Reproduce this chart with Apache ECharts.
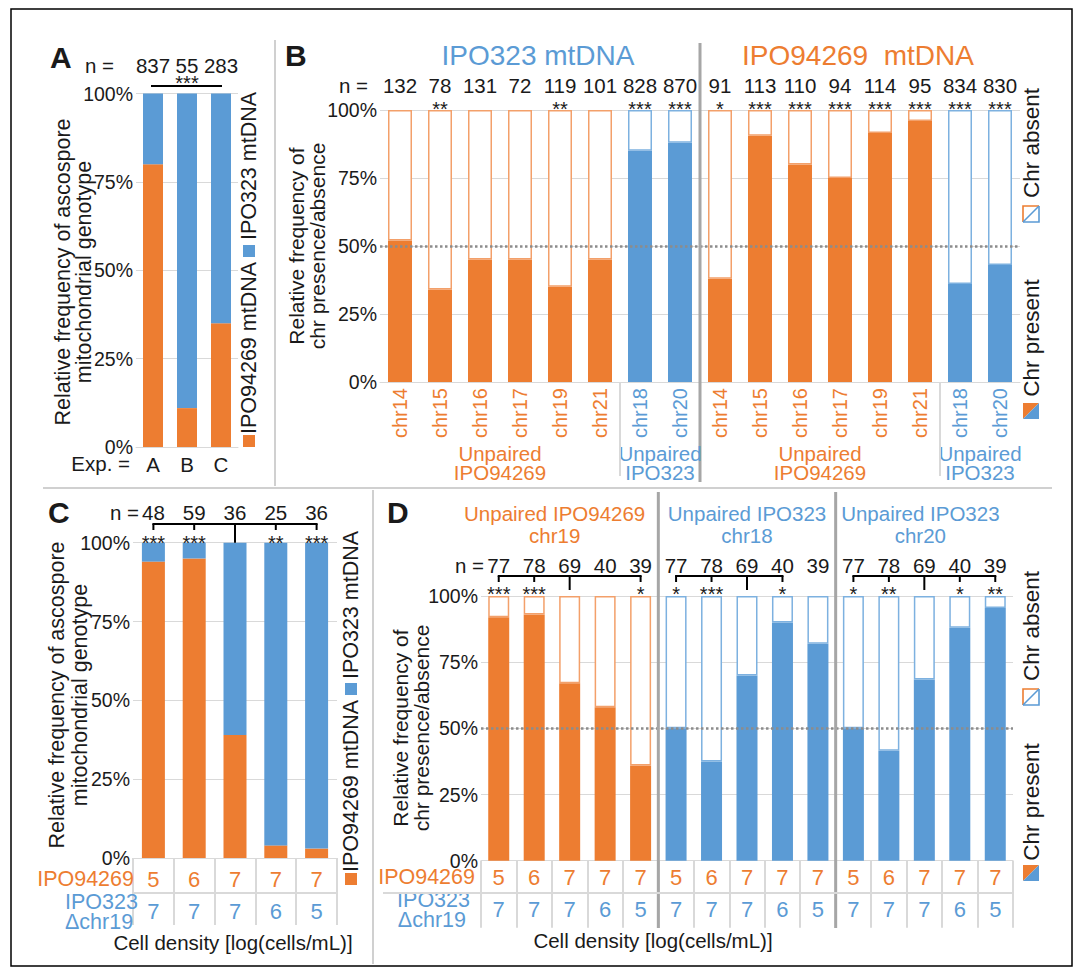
<!DOCTYPE html>
<html><head><meta charset="utf-8">
<script src="https://cdn.jsdelivr.net/npm/echarts@6/dist/echarts.min.js"></script>
<style>html,body{margin:0;padding:0;background:#fff}#c{width:1078px;height:979px}</style>
</head><body><div id="c"></div>
<script>
// ---------- Panel A ----------
const aExp = ['A', 'B', 'C'];
const aN = [837, 55, 283];
const aSig = '***';
const aIPO94269 = [80, 11, 35];
const aIPO323 = [20, 89, 65];

// ---------- Panel B ----------
const bMt = ['IPO323 mtDNA','IPO323 mtDNA','IPO323 mtDNA','IPO323 mtDNA','IPO323 mtDNA','IPO323 mtDNA','IPO323 mtDNA','IPO323 mtDNA',
             'IPO94269  mtDNA','IPO94269  mtDNA','IPO94269  mtDNA','IPO94269  mtDNA','IPO94269  mtDNA','IPO94269  mtDNA','IPO94269  mtDNA','IPO94269  mtDNA'];
const bChr = ['chr14','chr15','chr16','chr17','chr19','chr21','chr18','chr20',
              'chr14','chr15','chr16','chr17','chr19','chr21','chr18','chr20'];
const bStrain = ['IPO94269','IPO94269','IPO94269','IPO94269','IPO94269','IPO94269','IPO323','IPO323',
                 'IPO94269','IPO94269','IPO94269','IPO94269','IPO94269','IPO94269','IPO323','IPO323'];
const bN = [132, 78, 131, 72, 119, 101, 828, 870, 91, 113, 110, 94, 114, 95, 834, 830];
const bSig = ['', '**', '', '', '**', '', '***', '***', '*', '***', '***', '***', '***', '***', '***', '***'];
const bPresent = [52, 34, 45, 45, 35, 45, 85, 88, 38, 90.5, 80, 75, 91.5, 96, 36, 43];

// ---------- Panel C ----------
const cDens94269 = [5, 6, 7, 7, 7];
const cDens323 = [7, 7, 7, 6, 5];
const cN = [48, 59, 36, 25, 36];
const cSig = ['***', '***', '', '**', '***'];
const cRef = 2;
const cIPO94269 = [94, 95, 39, 4, 3];
const cIPO323 = [6, 5, 61, 96, 97];

// ---------- Panel D ----------
const dChr = ['chr19','chr19','chr19','chr19','chr19','chr18','chr18','chr18','chr18','chr18','chr20','chr20','chr20','chr20','chr20'];
const dStrain = ['IPO94269','IPO94269','IPO94269','IPO94269','IPO94269','IPO323','IPO323','IPO323','IPO323','IPO323','IPO323','IPO323','IPO323','IPO323','IPO323'];
const dDens94269 = [5, 6, 7, 7, 7, 5, 6, 7, 7, 7, 5, 6, 7, 7, 7];
const dDens323 = [7, 7, 7, 6, 5, 7, 7, 7, 6, 5, 7, 7, 7, 6, 5];
const dN = [77, 78, 69, 40, 39, 77, 78, 69, 40, 39, 77, 78, 69, 40, 39];
const dSig = ['***', '***', '', '', '*', '*', '***', '', '*', '', '*', '**', '', '*', '**'];
const dRef = [2, 7, 12];
const dPresent = [92, 93, 67, 58, 36, 50, 37.5, 70, 90, 82, 50, 41.5, 68.5, 88, 95.5];

// ---------- styles ----------
const FONT = "'Liberation Sans', Arial, Helvetica, sans-serif";
const ORANGE = '#ED7D31', BLUE = '#5B9BD5', ORANGE_L = '#F3A06A', BLUE_L = '#7DB1E0';
const GRIDC = '#D9D9D9', TXT = '#1a1a1a', DIV = '#A6A6A6', SEP = '#D0D0D0';
const col = s => s === 'IPO94269' ? ORANGE : BLUE;
const colL = s => s === 'IPO94269' ? ORANGE_L : BLUE_L;
const dTitleDx = [-15, 0, -4];

const chart = echarts.init(document.getElementById('c'), null, {renderer: 'svg', width: 1078, height: 979});

const grids = [
  {left: 136, top: 93.5, width: 102, height: 353.5},
  {left: 380, top: 110, width: 640, height: 272},
  {left: 133, top: 542.7, width: 204, height: 315.3},
  {left: 481, top: 596, width: 532, height: 264.7}
];
function yAx(i) {
  return {type: 'value', gridIndex: i, min: 0, max: 100, interval: 25,
    axisLabel: {formatter: '{value}%', fontSize: 19.5, color: TXT, fontFamily: FONT, margin: 3},
    splitLine: {lineStyle: {color: GRIDC, width: 1}}, axisLine: {show: false}, axisTick: {show: false}};
}
const midLine = {silent: true, symbol: 'none', data: [{yAxis: 50}], label: {show: false},
  lineStyle: {type: 'dotted', color: '#8C8C8C', width: 2.5}};

const option = {
  backgroundColor: '#fff',
  animation: false,
  grid: grids,
  xAxis: [
    {type: 'category', gridIndex: 0, data: aExp,
      axisLabel: {fontSize: 20.5, color: TXT, margin: 7, fontFamily: FONT},
      axisTick: {show: false}, axisLine: {lineStyle: {color: GRIDC}}},
    {type: 'category', gridIndex: 1, data: bChr,
      axisLabel: {rotate: 90, margin: 6, interval: 0,
        formatter: (v, i) => `{${bStrain[i] === 'IPO94269' ? 'o' : 'b'}|${v}}`,
        rich: {o: {color: ORANGE, fontSize: 20, fontFamily: FONT}, b: {color: BLUE, fontSize: 20, fontFamily: FONT}}},
      axisTick: {show: false}, axisLine: {lineStyle: {color: GRIDC}}},
    {type: 'category', gridIndex: 2, data: cDens94269.map((d, i) => d + '/' + cDens323[i]),
      axisLabel: {show: false},
      axisTick: {show: true, length: 67, interval: 0, lineStyle: {color: GRIDC, width: 2}},
      axisLine: {lineStyle: {color: GRIDC}}},
    {type: 'category', gridIndex: 3, data: dChr.map((c, i) => c + '_' + i),
      axisLabel: {show: false},
      axisTick: {show: true, length: 67, interval: 0, lineStyle: {color: GRIDC, width: 2}},
      axisLine: {lineStyle: {color: GRIDC}}}
  ],
  yAxis: [yAx(0), yAx(1), yAx(2), yAx(3)],
  series: [
    {type: 'bar', name: 'IPO94269 mtDNA', xAxisIndex: 0, yAxisIndex: 0, stack: 'a', barWidth: 20,
      data: aIPO94269, itemStyle: {color: ORANGE}},
    {type: 'bar', name: 'IPO323 mtDNA', xAxisIndex: 0, yAxisIndex: 0, stack: 'a', barWidth: 20,
      data: aIPO323, itemStyle: {color: BLUE}},
    {type: 'bar', name: 'Chr present', xAxisIndex: 1, yAxisIndex: 1, stack: 'b', barWidth: 24,
      data: bPresent.map((v, i) => ({value: v, itemStyle: {color: col(bStrain[i])}}))},
    {type: 'bar', name: 'Chr absent', xAxisIndex: 1, yAxisIndex: 1, stack: 'b', barWidth: 24,
      data: bPresent.map((v, i) => ({value: 100 - v, itemStyle: {color: '#fff', borderColor: colL(bStrain[i]), borderWidth: 1.5}})),
      markLine: midLine},
    {type: 'bar', name: 'IPO94269 mtDNA', xAxisIndex: 2, yAxisIndex: 2, stack: 'c', barWidth: 23,
      data: cIPO94269, itemStyle: {color: ORANGE}},
    {type: 'bar', name: 'IPO323 mtDNA', xAxisIndex: 2, yAxisIndex: 2, stack: 'c', barWidth: 23,
      data: cIPO323, itemStyle: {color: BLUE}},
    {type: 'bar', name: 'Chr present', xAxisIndex: 3, yAxisIndex: 3, stack: 'd', barWidth: 21,
      data: dPresent.map((v, i) => ({value: v, itemStyle: {color: col(dStrain[i])}}))},
    {type: 'bar', name: 'Chr absent', xAxisIndex: 3, yAxisIndex: 3, stack: 'd', barWidth: 21,
      data: dPresent.map((v, i) => ({value: 100 - v, itemStyle: {color: '#fff', borderColor: colL(dStrain[i]), borderWidth: 1.5}})),
      markLine: midLine}
  ]
};
chart.setOption(option);

// ---------- annotations placed through the axes ----------
const G = [];
const ROT = Math.PI / 2;
function T(x, y, text, o = {}) {
  G.push({type: 'text', x, y, rotation: o.rot || 0, z: 100, silent: true,
    style: {text, fill: o.color || TXT, font: `${o.bold ? 'bold ' : ''}${o.size || 20}px ${FONT}`,
      textAlign: o.align || 'center', textVerticalAlign: o.va || 'middle', lineHeight: o.lh || undefined}});
}
function L(x1, y1, x2, y2, color, w) {
  G.push({type: 'line', z: 100, silent: true, shape: {x1, y1, x2, y2}, style: {stroke: color, lineWidth: w}});
}
function R(x, y, w, h, fill, stroke, lw) {
  G.push({type: 'rect', z: 100, silent: true, shape: {x, y, width: w, height: h},
    style: {fill: fill, stroke: stroke || null, lineWidth: lw || 0}});
}
function PG(points, fill) { G.push({type: 'polygon', z: 100, silent: true, shape: {points}, style: {fill}}); }
function PL(points, stroke, w) { G.push({type: 'polyline', z: 101, silent: true, shape: {points}, style: {stroke, lineWidth: w, fill: null}}); }
const P = (g, i, v) => chart.convertToPixel({gridIndex: g}, [i, v]);
const X = (g, i) => P(g, i, 100)[0];
const STAR = 20, STAR_DY = 4.5;
function star(x, y, s) { T(x, y + STAR_DY, s, {size: STAR}); }

function absentIcon(x, y, s) {
  R(x, y, s, s, '#fff');
  PL([[x, y + s], [x, y], [x + s, y]], ORANGE, 1.6);
  PL([[x + s, y], [x + s, y + s], [x, y + s]], BLUE, 1.6);
  PL([[x, y + s], [x + s, y]], BLUE, 1.6);
}
function presentIcon(x, y, s) {
  PG([[x, y], [x + s, y], [x, y + s]], ORANGE);
  PG([[x + s, y], [x + s, y + s], [x, y + s]], BLUE);
}
function bracket(g, sig, ref, yLine, yTick, yRef) {
  const idx = sig.map((s, i) => s ? i : -1).filter(i => i >= 0);
  const all = idx.concat([ref]);
  const lo = Math.min(...all), hi = Math.max(...all);
  L(X(g, lo) - 1, yLine, X(g, hi) + 1, yLine, '#000', 2);
  idx.forEach(i => L(X(g, i), yLine, X(g, i), yTick, '#000', 2));
  L(X(g, ref), yLine, X(g, ref), yRef, '#000', 2);
}

// frame and panel separators
R(11, 9, 1061, 957, 'none', '#000', 1.5);
L(275, 40, 275, 486, SEP, 2);
L(43, 488, 1052, 488, SEP, 2);
L(373, 490, 373, 964, SEP, 2);

// ----- Panel A -----
T(50, 57, 'A', {bold: true, size: 30, align: 'left'});
T(114, 65, 'n =', {align: 'right', size: 20.5});
aN.forEach((n, i) => T(X(0, i), 65, String(n), {size: 20.5}));
L(X(0, 0) - 2, 86, X(0, 2) + 1, 86, '#000', 2);
star(X(0, 1), 78, aSig);
T(130, 463, 'Exp. =', {align: 'right', size: 20.5});
T(73, 272, 'Relative frequency of ascospore\nmitochondrial genotype', {rot: ROT, size: 21.5, lh: 21});
R(243, 435, 12, 12, ORANGE);
T(249, 348, 'IPO94269 mtDNA', {rot: ROT, size: 21.5});
R(243, 245, 12, 12, BLUE);
T(249, 166, 'IPO323 mtDNA', {rot: ROT, size: 21.5});

// ----- Panel B -----
T(285, 55, 'B', {bold: true, size: 30, align: 'left'});
(function () {
  function runs(arr) {
    const r = []; let s = 0;
    for (let i = 1; i <= arr.length; i++) if (i === arr.length || arr[i] !== arr[s]) { r.push([s, i - 1]); s = i; }
    return r;
  }
  runs(bMt).forEach(([s, e]) => {
    const cx = (X(1, s) + X(1, e)) / 2;
    T(cx - 2, 55, bMt[s], {size: 28, color: bMt[s].startsWith('IPO323') ? BLUE : ORANGE});
    if (s > 0) L((X(1, s - 1) + X(1, s)) / 2, 43, (X(1, s - 1) + X(1, s)) / 2, 482, DIV, 3);
  });
  runs(bMt.map((m, i) => m + '|' + bStrain[i])).forEach(([s, e]) => {
    const cx = (X(1, s) + X(1, e)) / 2;
    T(cx, 463, 'Unpaired\n' + bStrain[s], {color: col(bStrain[s]), lh: 19, size: 20.5});
    if (s > 0 && bMt[s] === bMt[s - 1]) {
      const xs = (X(1, s - 1) + X(1, s)) / 2; L(xs, 382, xs, 476, GRIDC, 2);
    }
  });
})();
T(368, 85, 'n =', {align: 'right', size: 20.5});
bN.forEach((n, i) => T(X(1, i), 85, String(n), {size: 20.5}));
bSig.forEach((s, i) => { if (s) star(X(1, i), 104, s); });
T(307, 246, 'Relative frequency of\nchr presence/absence', {rot: ROT, size: 21, lh: 21});
T(1031, 143, 'Chr absent', {rot: ROT, size: 22.5});
absentIcon(1023, 206, 16);
T(1031, 338, 'Chr present', {rot: ROT, size: 22.5});
presentIcon(1023, 403, 16);

// ----- Panel C -----
T(48, 512, 'C', {bold: true, size: 30, align: 'left'});
T(139, 512, 'n =', {align: 'right', size: 20.5});
cN.forEach((n, i) => T(X(2, i), 512, String(n), {size: 20.5}));
bracket(2, cSig, cRef, 524, 530, P(2, 0, 100)[1]);
cSig.forEach((s, i) => { if (s) star(X(2, i), 538, s); });
T(68, 695, 'Relative frequency of ascospore\nmitochondrial genotype', {rot: ROT, size: 21.5, lh: 23});
R(345, 873, 12, 12, ORANGE);
T(351, 786, 'IPO94269 mtDNA', {rot: ROT, size: 21.5});
R(345, 683, 12, 12, BLUE);
T(351, 605, 'IPO323 mtDNA', {rot: ROT, size: 21.5});
T(134, 879, 'IPO94269', {align: 'right', color: ORANGE, size: 21.5});
T(65, 902, 'IPO323', {align: 'left', color: BLUE, size: 21.5});
T(65, 922, 'Δchr19', {align: 'left', color: BLUE, size: 21.5});
cDens94269.forEach((d, i) => T(X(2, i), 879, String(d), {color: ORANGE, size: 22}));
cDens323.forEach((d, i) => T(X(2, i), 911, String(d), {color: BLUE, size: 22}));
L(133, 893, 337, 893, GRIDC, 2);
T(233, 942, 'Cell density [log(cells/mL)]', {size: 20.5});

// ----- Panel D -----
T(387, 512, 'D', {bold: true, size: 30, align: 'left'});
T(484, 565, 'n =', {align: 'right', size: 20.5});
dN.forEach((n, i) => T(X(3, i), 565, String(n), {size: 20.5}));
dSig.forEach((s, i) => { if (s) star(X(3, i), 589, s); });
(function () {
  let s = 0, g = 0;
  for (let i = 1; i <= dChr.length; i++) {
    if (i === dChr.length || dChr[i] !== dChr[s]) {
      const e = i - 1;
      const cx = (X(3, s) + X(3, e)) / 2 + dTitleDx[g];
      T(cx, 524, 'Unpaired ' + dStrain[s] + '\n' + dChr[s], {color: col(dStrain[s]), size: 20.5, lh: 22});
      const subSig = dSig.map((v, k) => (k >= s && k <= e) ? v : '');
      bracket(3, subSig, dRef[g], 576, 582, 590);
      if (s > 0) { const xs = (X(3, s - 1) + X(3, s)) / 2; L(xs, 492, xs, 928, DIV, 3); }
      s = i; g++;
    }
  }
})();
T(411, 728, 'Relative frequency of\nchr presence/absence', {rot: ROT, size: 21, lh: 21});
T(475, 877, 'IPO94269', {align: 'right', color: ORANGE, size: 21.5});
T(470, 900, 'IPO323', {align: 'right', color: BLUE, size: 21.5});
T(466, 920, 'Δchr19', {align: 'right', color: BLUE, size: 21.5});
dDens94269.forEach((d, i) => T(X(3, i), 877, String(d), {color: ORANGE, size: 22}));
dDens323.forEach((d, i) => T(X(3, i), 909, String(d), {color: BLUE, size: 22}));
L(383, 893, 1013, 893, GRIDC, 2);
T(653, 940, 'Cell density [log(cells/mL)]', {size: 20.5});
T(1031, 626, 'Chr absent', {rot: ROT, size: 22.5});
absentIcon(1023, 689, 16);
T(1031, 802, 'Chr present', {rot: ROT, size: 22.5});
presentIcon(1023, 865, 16);

chart.setOption({graphic: G});
</script>
</body></html>
